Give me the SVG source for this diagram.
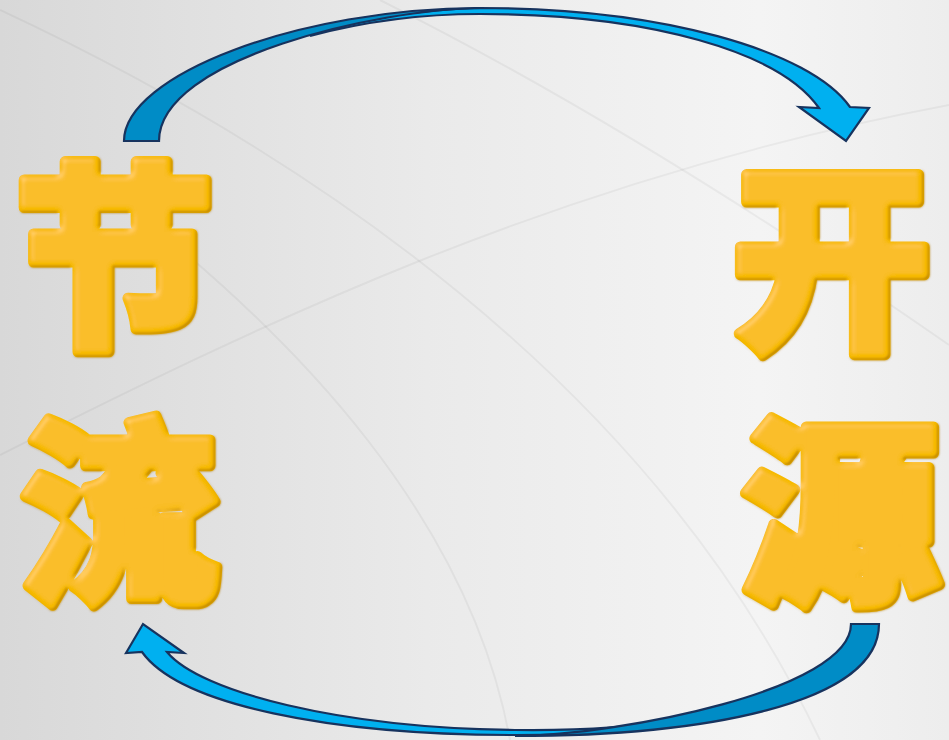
<svg xmlns="http://www.w3.org/2000/svg" width="949" height="740" viewBox="0 0 949 740">
<defs>
  <linearGradient id="bg" x1="0" y1="0" x2="1" y2="0">
    <stop offset="0" stop-color="#D8D8D8"/>
    <stop offset="0.45" stop-color="#EAEAEA"/>
    <stop offset="0.8" stop-color="#F4F4F4"/>
    <stop offset="1" stop-color="#EDEDED"/>
  </linearGradient>
  <filter id="bevel" x="-10%" y="-10%" width="120%" height="120%">
    <feGaussianBlur in="SourceAlpha" stdDeviation="3" result="b"/>
    <feSpecularLighting in="b" surfaceScale="3" specularConstant="0.6" specularExponent="25" lighting-color="#FFFFFF" result="s">
      <feDistantLight azimuth="225" elevation="50"/>
    </feSpecularLighting>
    <feComposite in="s" in2="SourceAlpha" operator="in" result="s2"/>
    <feOffset in="SourceAlpha" dx="-2.5" dy="-2.5" result="o"/>
    <feComposite in="SourceAlpha" in2="o" operator="out" result="edge"/>
    <feGaussianBlur in="edge" stdDeviation="1" result="edgeb"/>
    <feFlood flood-color="#B07800" flood-opacity="0.85"/>
    <feComposite in2="edgeb" operator="in" result="shade"/>
    <feMerge result="m">
      <feMergeNode in="SourceGraphic"/>
      <feMergeNode in="shade"/>
    </feMerge>
    <feComposite in="m" in2="s2" operator="arithmetic" k1="0" k2="1" k3="0.18" k4="0"/>
  </filter>
  <style>
    .ch{font-family:"Noto Sans CJK SC","Noto Sans CJK JP",sans-serif;font-weight:900;font-size:200px;fill:#F7BA00;stroke:#F7BA00;stroke-width:11;stroke-linejoin:round;paint-order:stroke;text-anchor:middle}
    .bgl{fill:none;stroke:#000;stroke-opacity:0.045;stroke-width:2}
    .dark{fill:#008CC6;stroke:#17335E;stroke-width:2.2;stroke-linejoin:miter}
    .light{fill:#00B0F0;stroke:#17335E;stroke-width:2.2;stroke-linejoin:miter}
  </style>
</defs>
<rect width="949" height="740" fill="url(#bg)"/>
<g id="background-lines">
  <path class="bgl" d="M380,0 Q640,130 949,345"/>
  <path class="bgl" d="M0,10 C300,150 650,380 820,740"/>
  <path class="bgl" d="M0,455 C250,330 550,180 949,105"/>
  <path class="bgl" d="M120,200 C300,340 470,520 510,740"/>
</g>
<g id="connectors">
  <g id="arrow-top">
    <path class="light" d="M310,36 C345,24 400,10 480,8 C660,8 810,50 850,107 L869,108 L846,141 L799,107 L819,108 C780,52 650,14 480,14 C410,14 355,24 310,36 Z"/>
    <path class="dark" d="M124,141 C124,75 300,8 480,8 C380,9 159,58 159,141 Z"/>
  </g>
  <g id="arrow-bottom">
    <path class="light" d="M126,653 L143,624 L184,653 L167,652 C200,692 340,728 515,730 C590,731 640,726 690,718 C640,731 580,735 515,735 C330,735 180,705 142,652 Z"/>
    <path class="dark" d="M879,624 C879,705 700,736 515,736 C620,735 851,690 851,624 Z"/>
  </g>
</g>
<g id="node-jie" filter="url(#bevel)"><text class="ch" x="115" y="333">节</text></g>
<g id="node-liu" filter="url(#bevel)"><text class="ch" x="120" y="588">流</text></g>
<g id="node-kai" filter="url(#bevel)"><text class="ch" x="832" y="335">开</text></g>
<g id="node-yuan" filter="url(#bevel)"><text class="ch" x="841" y="588">源</text></g>
</svg>
